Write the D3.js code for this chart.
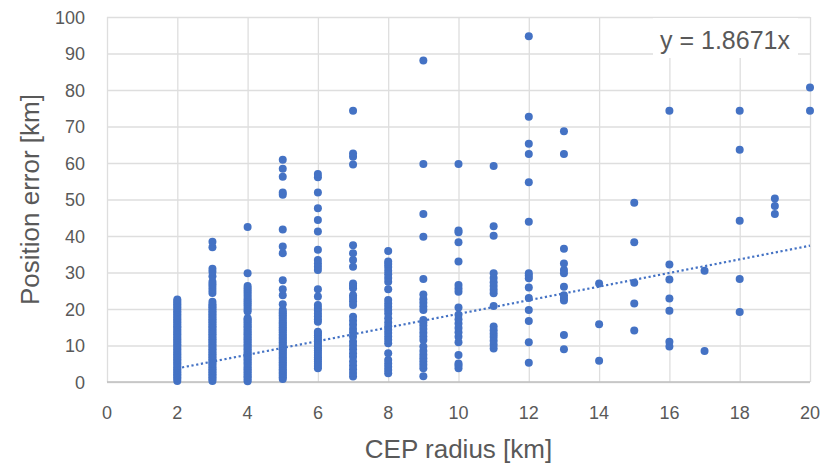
<!DOCTYPE html>
<html>
<head>
<meta charset="utf-8">
<script src="https://cdn.jsdelivr.net/npm/d3@7"></script>
<style>
  body { margin: 0; background: #fff; }
  text { font-family: "Liberation Sans", Arial, sans-serif; fill: #595959; }
</style>
</head>
<body>
<svg id="drawing_region"></svg>
<script>
// CEP radius categories and the position errors observed at each one
const cepRadius = [2, 3, 4, 5, 6, 7, 8, 9, 10, 11, 12, 13, 14, 15, 16, 17, 18, 19, 20];
const positionError = [
  [0.3,0.8,1.2,1.7,2.1,2.6,3.0,3.5,3.9,4.4,4.9,5.3,5.8,6.2,6.7,7.1,7.6,8.0,8.5,9.0,9.4,9.9,10.3,10.8,11.2,11.7,12.1,12.6,13.1,13.5,14.0,14.4,14.9,15.3,15.8,16.3,16.7,17.2,17.6,18.1,18.5,19.0,19.4,19.9,20.4,20.8,21.3,21.7,22.2,22.6],
  [0.3,0.8,1.2,1.7,2.1,2.6,3.0,3.5,3.9,4.4,4.9,5.3,5.8,6.2,6.7,7.1,7.6,8.0,8.5,9.0,9.4,9.9,10.3,10.8,11.2,11.7,12.1,12.6,13.1,13.5,14.0,14.4,14.9,15.3,15.8,16.3,16.7,17.2,17.6,18.1,18.5,19.0,19.4,19.9,20.4,20.8,21.3,22.0,24.4,25.2,26.0,26.8,27.5,29.0,30.2,31.0,36.9,38.4],
  [0.2,0.7,1.2,1.6,2.1,2.6,3.0,3.5,3.9,4.4,4.9,5.3,5.8,6.2,6.7,7.1,7.6,8.0,8.5,9.0,9.4,9.9,10.3,10.8,11.2,11.7,12.1,12.6,13.1,13.5,14.0,14.4,14.9,15.3,15.8,16.3,16.7,17.1,17.5,19.3,19.8,20.4,21.0,21.6,22.1,22.7,23.3,23.9,24.5,25.1,25.7,26.3,29.8,42.5],
  [0.8,1.3,1.7,2.2,2.6,3.1,3.5,4.0,4.5,4.9,5.4,5.8,6.3,6.7,7.2,7.7,8.1,8.6,9.0,9.5,9.9,10.4,10.9,11.3,11.8,12.2,12.7,13.1,13.6,14.1,14.5,15.0,15.4,15.9,16.3,16.8,17.3,17.8,18.3,18.8,19.2,19.7,21.3,23.8,25.4,27.9,35.3,37.1,41.8,51.3,51.9,56.2,58.4,60.9],
  [3.8,4.4,5.0,5.6,6.2,6.8,7.4,8.0,8.6,9.2,9.8,10.4,11.0,11.6,12.2,12.8,13.4,13.8,16.5,17.2,18.0,18.8,19.6,20.3,21.1,23.4,25.4,30.7,31.6,32.5,33.4,36.2,41.2,44.4,47.6,51.9,56.1,57.0],
  [1.5,2.5,3.5,4.5,5.6,6.9,7.9,9.0,10.0,11.0,12.4,13.5,14.5,15.7,16.8,17.9,21.1,22.1,23.0,23.8,25.7,26.4,27.0,31.6,33.4,35.3,37.5,59.6,61.7,62.6,74.3],
  [2.4,3.3,4.2,5.1,6.0,7.9,10.6,11.6,12.5,13.4,14.3,15.3,16.3,17.5,18.8,19.7,20.6,21.5,22.5,25.4,27.5,28.5,29.5,30.5,31.5,32.3,33.0,35.9],
  [1.6,3.8,4.7,5.6,6.5,7.5,8.5,9.7,11.5,12.5,13.5,14.5,15.5,16.3,17.0,19.7,20.7,21.7,22.7,24.0,28.2,39.8,46.0,59.7,88.1],
  [3.8,4.5,5.1,7.4,10.9,12.4,13.6,14.8,16.0,17.2,18.4,20.4,24.7,25.6,26.6,33.0,38.3,41.0,41.5,59.7],
  [9.2,10.2,11.3,12.3,13.2,14.2,15.2,20.8,24.3,25.3,26.3,27.3,28.5,29.8,40.1,42.7,59.2],
  [5.3,10.9,16.7,19.7,23.0,25.9,28.4,29.1,29.8,43.9,54.7,62.5,65.3,72.7,94.7],
  [9.0,12.9,22.3,23.0,23.8,26.1,29.8,30.7,32.5,36.5,62.5,68.7],
  [5.8,15.8,27.0],
  [14.1,21.5,27.2,38.3,49.1],
  [9.7,11.0,19.5,22.9,28.1,32.2,74.3],
  [8.5,30.5],
  [19.2,28.2,44.2,63.6,74.3],
  [46.0,48.2,50.3],
  [74.3,80.7]
];
const xTicks = [0, 2, 4, 6, 8, 10, 12, 14, 16, 18, 20];
const yTicks = [0, 10, 20, 30, 40, 50, 60, 70, 80, 90, 100];
const trendSlope = 1.8671;

const points = [];
cepRadius.forEach((r, i) => positionError[i].forEach(e => points.push({x: r, y: e})));

const width = 837, height = 466;
const margin = {top: 17, right: 27, bottom: 84, left: 107};

const svg = d3.select('#drawing_region')
  .attr('width', width)
  .attr('height', height);

svg.append('rect').attr('width', width).attr('height', height).attr('fill', '#fff');

const xScale = d3.scaleLinear().domain([0, 20]).range([margin.left, width - margin.right]);
const yScale = d3.scaleLinear().domain([0, 100]).range([height - margin.bottom, margin.top]);

// gridlines
svg.append('g')
  .attr('transform', `translate(0, ${height - margin.bottom})`)
  .call(d3.axisBottom(xScale).tickValues(xTicks).tickSize(-(height - margin.bottom - margin.top)).tickFormat(''))
  .call(g => g.select('.domain').remove())
  .call(g => g.selectAll('line').attr('stroke', '#dedede').attr('stroke-width', 1.3));

svg.append('g')
  .attr('transform', `translate(${margin.left}, 0)`)
  .call(d3.axisLeft(yScale).tickValues(yTicks).tickSize(-(width - margin.left - margin.right)).tickFormat(''))
  .call(g => g.select('.domain').remove())
  .call(g => g.selectAll('line').attr('stroke', '#dedede').attr('stroke-width', 1.3));

// bottom axis line
svg.append('line')
  .attr('x1', xScale(0)).attr('x2', xScale(20))
  .attr('y1', yScale(0)).attr('y2', yScale(0))
  .attr('stroke', '#bfbfbf').attr('stroke-width', 1.3);

// tick labels
svg.append('g').selectAll('text')
  .data(xTicks).join('text')
  .attr('x', d => xScale(d))
  .attr('y', 419)
  .attr('text-anchor', 'middle')
  .attr('font-size', '18px')
  .text(d => d);

svg.append('g').selectAll('text')
  .data(yTicks).join('text')
  .attr('x', 85)
  .attr('y', d => yScale(d) + 6.5)
  .attr('text-anchor', 'end')
  .attr('font-size', '18px')
  .text(d => d);

// points
svg.append('g').selectAll('circle')
  .data(points).join('circle')
  .attr('cx', d => xScale(d.x))
  .attr('cy', d => yScale(d.y))
  .attr('r', 4)
  .attr('fill', '#4472c4');

// linear trendline through origin
const xMin = d3.min(cepRadius), xMax = d3.max(cepRadius);
svg.append('line')
  .attr('x1', xScale(xMin)).attr('y1', yScale(trendSlope * xMin))
  .attr('x2', xScale(xMax)).attr('y2', yScale(trendSlope * xMax))
  .attr('stroke', '#4472c4')
  .attr('stroke-width', 2.2)
  .attr('stroke-dasharray', '2.2 2.6');

// equation label
svg.append('rect')
  .attr('x', 653).attr('y', 18).attr('width', 145).attr('height', 40)
  .attr('fill', '#fff');
svg.append('text')
  .attr('x', 725).attr('y', 49)
  .attr('text-anchor', 'middle')
  .attr('font-size', '25px')
  .text('y = ' + trendSlope + 'x');

// axis titles
svg.append('text')
  .attr('x', (xScale(0) + xScale(20)) / 2)
  .attr('y', 458)
  .attr('text-anchor', 'middle')
  .attr('font-size', '26px')
  .text('CEP radius [km]');

svg.append('text')
  .attr('transform', `translate(39, ${(yScale(0) + yScale(100)) / 2}) rotate(-90)`)
  .attr('text-anchor', 'middle')
  .attr('font-size', '26px')
  .text('Position error [km]');
</script>
</body>
</html>
